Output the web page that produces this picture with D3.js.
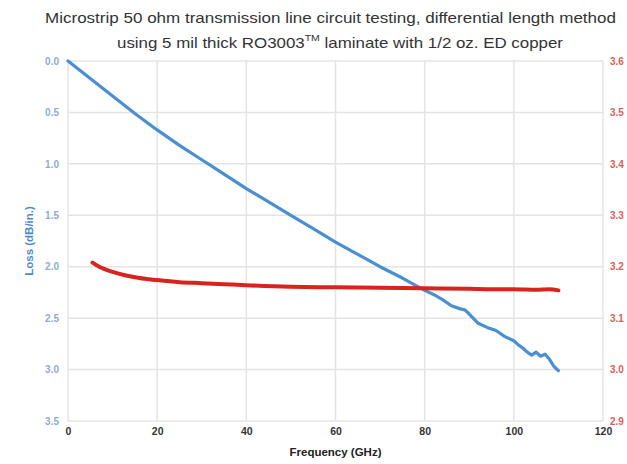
<!DOCTYPE html>
<html>
<head>
<meta charset="utf-8">
<script src="https://cdn.jsdelivr.net/npm/d3@7"></script>
<style>
  body { margin: 0; background: #fff; }
  text { font-family: "Liberation Sans", Arial, sans-serif; }
</style>
</head>
<body>
<div id="chart"></div>
<script>
// loss curve (GHz, dB/in.)
const lossFreq = [0, 5, 10, 15, 20, 25, 30, 35, 40, 45, 50, 55, 60, 65, 70, 75, 80, 82, 84, 86, 88, 89, 90, 92, 94, 96, 98, 100, 101, 102, 103, 104, 105, 106, 107, 108, 109, 110]
const lossVal  = [0.0, 0.17, 0.34, 0.51, 0.67, 0.82, 0.96, 1.10, 1.24, 1.37, 1.50, 1.63, 1.76, 1.88, 2.00, 2.11, 2.23, 2.27, 2.32, 2.38, 2.41, 2.42, 2.46, 2.55, 2.59, 2.62, 2.68, 2.72, 2.76, 2.79, 2.83, 2.86, 2.83, 2.87, 2.85, 2.90, 2.97, 3.01]

// Dk curve (GHz, Dk)
const dkFreq = [5.5, 7, 10, 13, 16, 20, 25, 30, 35, 40, 50, 60, 70, 80, 90, 95, 100, 105, 108, 110]
const dkVal  = [3.208, 3.200, 3.190, 3.183, 3.178, 3.174, 3.170, 3.168, 3.166, 3.164, 3.161, 3.160, 3.159, 3.158, 3.157, 3.156, 3.156, 3.155, 3.156, 3.154]

const xTicks = [0, 20, 40, 60, 80, 100, 120]
const lossTicks = [0.0, 0.5, 1.0, 1.5, 2.0, 2.5, 3.0, 3.5]
const dkTicks = [2.9, 3.0, 3.1, 3.2, 3.3, 3.4, 3.5, 3.6]

const W = 627, H = 464
const M = {TOP: 61, BOTTOM: 43, LEFT: 68, RIGHT: 24}

const svg = d3.select("#chart").append("svg")
  .attr("width", W)
  .attr("height", H)

const x = d3.scaleLinear().domain([0, 120]).range([M.LEFT, W - M.RIGHT])
const yL = d3.scaleLinear().domain([0, 3.5]).range([M.TOP, H - M.BOTTOM])
const yR = d3.scaleLinear().domain([2.9, 3.6]).range([H - M.BOTTOM, M.TOP])

// grid
svg.append("g")
  .selectAll("line.h")
  .data(lossTicks)
  .join("line")
  .attr("x1", M.LEFT).attr("x2", W - M.RIGHT)
  .attr("y1", d => yL(d)).attr("y2", d => yL(d))
  .attr("stroke", "#e4e4e4").attr("stroke-width", 1.5)

svg.append("g")
  .selectAll("line.v")
  .data(xTicks)
  .join("line")
  .attr("x1", d => x(d)).attr("x2", d => x(d))
  .attr("y1", M.TOP).attr("y2", H - M.BOTTOM)
  .attr("stroke", "#e4e4e4").attr("stroke-width", 1.5)

// axes (labels only)
const xAxis = svg.append("g")
  .attr("transform", `translate(0, ${H - M.BOTTOM + 4})`)
  .call(d3.axisBottom(x).tickValues(xTicks).tickSize(0).tickFormat(d3.format("d")))
xAxis.select(".domain").remove()
xAxis.selectAll("text")
  .attr("font-size", 10.5).attr("font-weight", "bold").attr("fill", "#333")

const lAxis = svg.append("g")
  .attr("transform", `translate(${M.LEFT - 6}, 0)`)
  .call(d3.axisLeft(yL).tickValues(lossTicks).tickSize(0).tickFormat(d3.format(".1f")))
lAxis.select(".domain").remove()
lAxis.selectAll("text")
  .attr("font-size", 10).attr("font-weight", "bold").attr("fill", "#8fabd0")

const rAxis = svg.append("g")
  .attr("transform", `translate(${W - M.RIGHT + 4}, 0)`)
  .call(d3.axisRight(yR).tickValues(dkTicks).tickSize(0).tickFormat(d3.format(".1f")))
rAxis.select(".domain").remove()
rAxis.selectAll("text")
  .attr("font-size", 10).attr("font-weight", "bold").attr("fill", "#d9605a")

// axis titles
svg.append("text")
  .attr("transform", `translate(33, ${(M.TOP + H - M.BOTTOM) / 2}) rotate(-90)`)
  .attr("text-anchor", "middle")
  .attr("font-size", 11.5).attr("font-weight", "bold").attr("fill", "#4e8acb")
  .text("Loss (dB/in.)")

svg.append("text")
  .attr("x", (M.LEFT + W - M.RIGHT) / 2)
  .attr("y", 456)
  .attr("text-anchor", "middle")
  .attr("font-size", 11.5).attr("font-weight", "bold").attr("fill", "#222")
  .text("Frequency (GHz)")

// title, stretched to the width it has in the original
svg.append("text")
  .attr("x", 45).attr("y", 23)
  .attr("font-size", 14.5).attr("fill", "#333")
  .attr("textLength", 571).attr("lengthAdjust", "spacingAndGlyphs")
  .text("Microstrip 50 ohm transmission line circuit testing, differential length method")

const t2 = svg.append("text")
  .attr("x", 117).attr("y", 48)
  .attr("font-size", 14.5).attr("fill", "#333")
  .attr("textLength", 446).attr("lengthAdjust", "spacingAndGlyphs")
t2.append("tspan").text("using 5 mil thick RO3003")
t2.append("tspan").attr("font-size", 9).attr("dy", -7).text("TM")
t2.append("tspan").attr("dy", 7).text(" laminate with 1/2 oz. ED copper")

// lines
const lossData = lossFreq.map((f, i) => ({f, v: lossVal[i]}))
const dkData = dkFreq.map((f, i) => ({f, v: dkVal[i]}))

svg.append("path")
  .datum(lossData)
  .attr("fill", "none")
  .attr("stroke", "#4a8fd1")
  .attr("stroke-width", 3.2)
  .attr("stroke-linejoin", "round")
  .attr("stroke-linecap", "round")
  .attr("d", d3.line().x(d => x(d.f)).y(d => yL(d.v)))

svg.append("path")
  .datum(dkData)
  .attr("fill", "none")
  .attr("stroke", "#d8231f")
  .attr("stroke-width", 4)
  .attr("stroke-linejoin", "round")
  .attr("stroke-linecap", "round")
  .attr("d", d3.line().curve(d3.curveMonotoneX).x(d => x(d.f)).y(d => yR(d.v)))
</script>
</body>
</html>
